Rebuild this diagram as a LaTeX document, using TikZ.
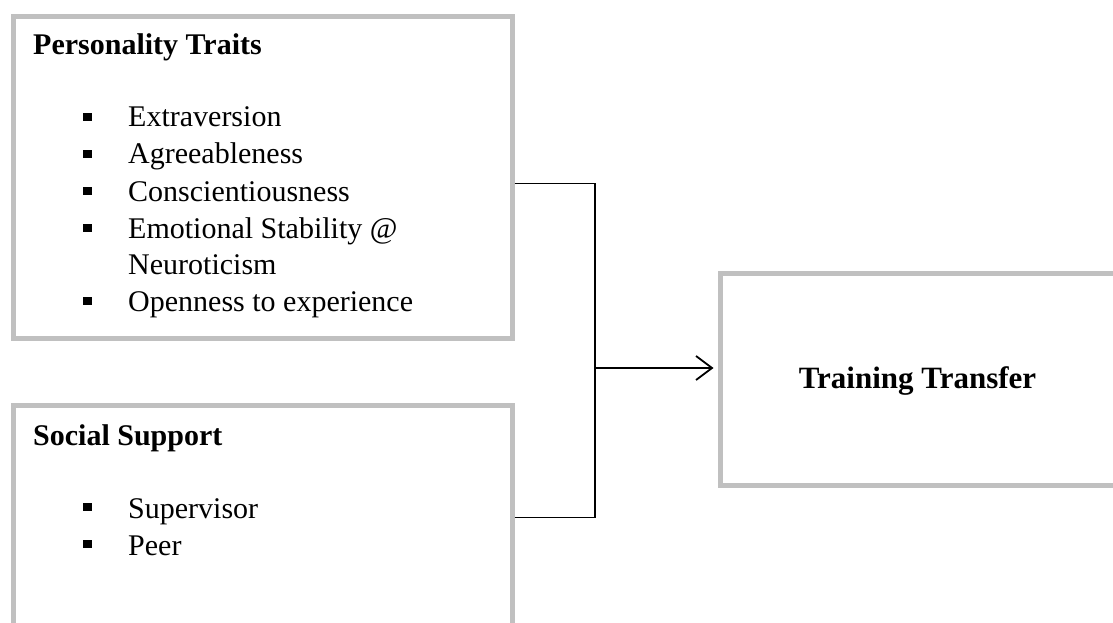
\documentclass[tikz,border=0pt]{standalone}
\usepackage{fontspec}
\setmainfont{Liberation Serif}
\usetikzlibrary{arrows.meta}
\definecolor{boxgray}{RGB}{192,192,192}
\begin{document}
\begin{tikzpicture}[x=1pt,y=-1pt,
  box/.style={draw=boxgray, line width=5pt, rectangle, inner sep=0pt, anchor=north west},
  txt/.style={anchor=base west, inner sep=0pt, font=\fontsize{30}{36}\selectfont},
  head/.style={anchor=base west, inner sep=0pt, font=\fontsize{30}{36}\selectfont\bfseries},
  sq/.style={fill=black, minimum size=8.5pt, inner sep=0pt},
  conn/.style={line width=1.8pt, black}]
\useasboundingbox (0,0) rectangle (1113,623);
\clip (0,0) rectangle (1113,623);
% boxes
\node[box, minimum width=499pt, minimum height=321.5pt] (pt) at (10.5,14) {};
\node[box, minimum width=499pt, minimum height=250pt] (ss) at (10.5,402.5) {};
\node[box, minimum width=420pt, minimum height=212pt] (tr) at (717.5,270.5) {};
% personality traits
\node[head] (h1) at (33,55) {Personality Traits};
\node[sq] (b1) at (87.5,117) {};
\node[txt] (t1) at (128,127) {Extraversion};
\node[sq] (b2) at (87.5,154) {};
\node[txt] (t2) at (128,164) {Agreeableness};
\node[sq] (b3) at (87.5,191) {};
\node[txt] (t3) at (128,201) {Conscientiousness};
\node[sq] (b4) at (87.5,228) {};
\node[txt] (t4) at (128,238) {Emotional Stability @};
\node[txt] (t4b) at (128,274.5) {Neuroticism};
\node[sq] (b5) at (87.5,301) {};
\node[txt] (t5) at (128,311) {Openness to experience};
% social support
\node[head] (h2) at (33,445) {Social Support};
\node[sq] (s1) at (87.5,507) {};
\node[txt] (u1) at (128,518) {Supervisor};
\node[sq] (s2) at (87.5,544) {};
\node[txt] (u2) at (128,555) {Peer};
% outcome
\node[anchor=base, inner sep=0pt, font=\fontsize{31}{36}\selectfont\bfseries] (ttl) at (917.5,388) {Training Transfer};
% connectors
\coordinate (j) at (595,368);
\draw[conn] ([yshift=-6.25pt]pt.east) -| (j);
\draw[conn] ([yshift=12.5pt]ss.east) -| (j);
\draw[conn, -{Straight Barb[length=16pt,width=24pt,line width=1.8pt]}, shorten >=4pt] (j) -- (j -| tr.west);
\end{tikzpicture}
\end{document}
